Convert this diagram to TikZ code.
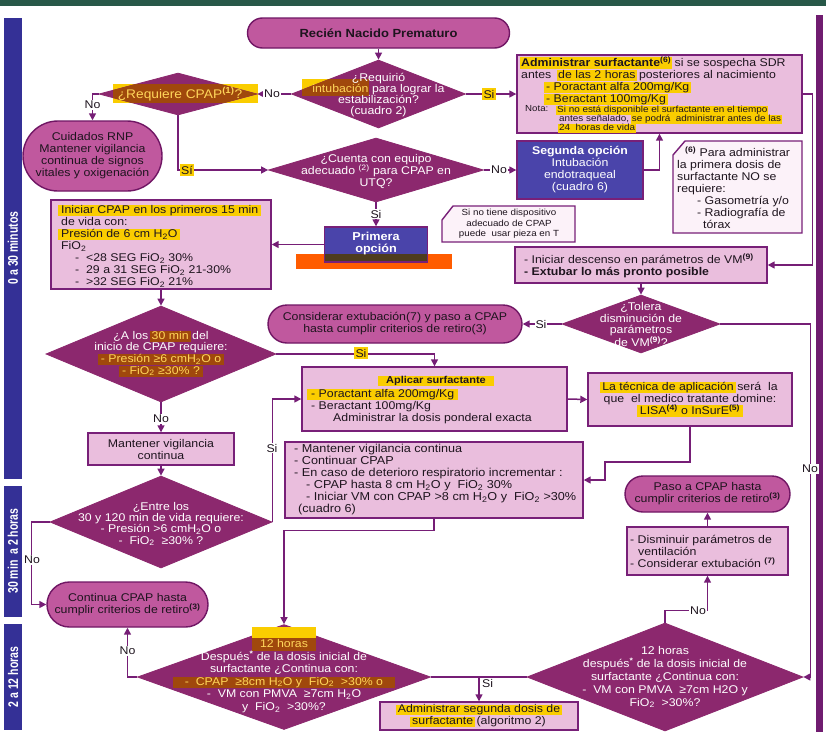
\documentclass[tikz,border=0pt]{standalone}
\usepackage{fontspec}
\setmainfont[FakeStretch=1.1]{Liberation Sans}
\newfontfamily\barfont[FakeStretch=0.75]{Liberation Sans}
\usetikzlibrary{arrows.meta,shapes.geometric}
\definecolor{topC}{RGB}{40,88,72}
\definecolor{barC}{RGB}{52,48,150}
\definecolor{rbarC}{RGB}{112,28,112}
\definecolor{lineC}{RGB}{118,30,118}
\definecolor{bordC}{RGB}{120,32,120}
\definecolor{boxC}{RGB}{234,190,221}
\definecolor{stadC}{RGB}{192,88,158}
\definecolor{stadB}{RGB}{112,22,100}
\definecolor{diaC}{RGB}{140,40,110}
\definecolor{blueC}{RGB}{74,68,170}
\definecolor{noteC}{RGB}{252,242,249}
\definecolor{hlY}{RGB}{250,205,0}
\definecolor{hlB}{RGB}{160,72,12}
\definecolor{hlT}{RGB}{255,214,90}
\definecolor{orangeC}{RGB}{255,92,0}
\definecolor{oliveC}{RGB}{78,60,30}
\definecolor{txtC}{RGB}{30,20,30}
\setlength{\fboxsep}{0pt}
\newcommand\hlstrut{\rule[-0.25em]{0pt}{0.95em}}
\newcommand\hly[2][1pt]{\kern-#1\relax\colorbox{hlY}{\kern#1\relax\hlstrut#2\kern#1\relax}\kern-#1\relax}
\newcommand\hlb[2][1pt]{\kern-#1\relax\colorbox{hlB}{\kern#1\relax\hlstrut\color{hlT}#2\kern#1\relax}\kern-#1\relax}
\newcommand\sups[1]{\textsuperscript{\bfseries #1}}
\begin{document}
\begin{tikzpicture}[x=1pt,y=-1pt,
  every node/.style={font=\fontsize{11.2}{12}\selectfont, text=txtC},
  conn/.style={draw=lineC, line width=1.5pt},
  arr/.style={conn, -{Triangle[length=7pt,width=7pt]}},
  pbox/.style={rectangle, draw=bordC, fill=boxC, line width=1.4pt, inner sep=0pt},
  bluebox/.style={rectangle, draw=bordC, fill=blueC, line width=1.4pt, inner sep=0pt},
  stad/.style={rectangle, draw=stadB, fill=stadC, line width=1.4pt, inner sep=0pt, align=center},
  dia/.style={diamond, draw=diaC, fill=diaC, line width=0.8pt, inner sep=0pt},
  dtext/.style={text=white, align=center, inner sep=0pt},
  txt/.style={inner sep=0pt, align=left},
  notebox/.style={draw=bordC, fill=noteC, line width=1.4pt},
  lbl/.style={fill=white, inner sep=1pt},
  ylbl/.style={fill=hlY, inner sep=1.5pt},
  bartext/.style={rotate=90, text=white, inner sep=0pt, font=\barfont\bfseries\fontsize{14}{14}\selectfont}
]
\useasboundingbox (0,0) rectangle (826,736);
\fill[white] (0,0) rectangle (826,736);
\fill[topC] (0,0) rectangle (826,6);
% time bars
\fill[barC] (4,18) rectangle (22,479);
\fill[barC] (4,486) rectangle (22,617);
\fill[barC] (4,624) rectangle (22,730);
\node[bartext] (b1t) at (13,248) {0 a 30 minutos};
\node[bartext] (b2t) at (13,551) {30 min \ a 2 horas};
\node[bartext] (b3t) at (13,677) {2 a 12 horas};
\fill[rbarC] (816,15) rectangle (823,732);

% highlights lying behind diamonds
\fill[hlY] (113,84) rectangle (258,103);
\fill[hlY] (302,79) rectangle (369,96);

% ---------- shapes ----------
\node[stad, rounded corners=15, minimum width=262, minimum height=30, font=\bfseries\fontsize{11.8}{12}\selectfont] (rnp) at (378.5,33) {Recién Nacido Prematuro};
\node[dia, minimum width=174, minimum height=68] (d1) at (378.5,94) {};
\node[dia, minimum width=158, minimum height=42] (d0) at (178,94) {};
\node[stad, rounded corners=35, minimum width=139, minimum height=70] (cuid) at (92.5,156) {Cuidados RNP\\Mantener vigilancia\\continua de signos\\vitales y oxigenación};
\node[dia, minimum width=215, minimum height=64] (d2) at (376,170) {};
\node[pbox, minimum width=285, minimum height=78] (surf) at (659.5,94) {};
\node[bluebox, minimum width=126, minimum height=58, text=white, align=center] (seg) at (580,170) {\textbf{Segunda opción}\\Intubación\\endotraqueal\\(cuadro 6)};

\draw[notebox] (673,155) -- (685,141) -- (802,141) -- (802,233) -- (673,233) -- cycle;
\node[txt, anchor=west] (n6t) at (677,188) {\hspace*{8pt}\sups{(6)} Para administrar\\la primera dosis de\\surfactante NO se\\requiere:\\\hspace*{20pt}- Gasometría y/o\\\hspace*{20pt}- Radiografía de\\\hspace*{26pt}tórax};
\draw[notebox] (442,220) -- (453,206) -- (575,206) -- (575,242) -- (442,242) -- cycle;
\node[inner sep=0pt, align=center, font=\fontsize{8.9}{10.5}\selectfont] (ntt) at (509,224) {Si no tiene dispositivo\\adecuado de CPAP\\puede \ usar pieza en T};

\fill[orangeC] (296,254) rectangle (452,269);
\node[bluebox, minimum width=103, minimum height=35] (prim) at (376,244.5) {};
\fill[oliveC] (324.5,254) rectangle (427.5,262);
\draw[bordC, line width=1.4pt] (324.5,227) rectangle (427.5,262);
\node[text=white, inner sep=0pt, align=center, font=\bfseries\fontsize{11.5}{12}\selectfont] (primt) at (376,244) {Primera\\opción};

\node[pbox, minimum width=220, minimum height=89] (cpap) at (161,244.5) {};
\node[dia, minimum width=230, minimum height=96] (d3) at (161,354) {};
\node[stad, rounded corners=19, minimum width=254, minimum height=38] (cons) at (395,324) {Considerar extubación(7) y paso a CPAP\\hasta cumplir criterios de retiro(3)};
\node[pbox, minimum width=252, minimum height=36] (desc) at (641,265) {};
\node[dia, minimum width=158, minimum height=58] (d4) at (641,324) {};
\node[pbox, minimum width=265, minimum height=64] (aplic) at (434.5,399) {};
\node[pbox, minimum width=204, minimum height=53, align=center] (tec) at (690,399.5) {\hly[2pt]{La técnica de aplicación} será \ la\\que \ el medico tratante domine:\\\hly[3pt]{LISA\sups{(4)} o InSurE\sups{(5)}}};
\node[pbox, minimum width=146, minimum height=32, align=center] (mant) at (161,449) {Mantener vigilancia\\continua};
\node[pbox, minimum width=298, minimum height=76] (lst) at (434,480) {};
\node[dia, minimum width=222, minimum height=92] (d5) at (161,522) {};
\node[stad, rounded corners=22.5, minimum width=161, minimum height=45] (cont) at (127.5,604.5) {Continua CPAP hasta\\cumplir criterios de retiro\sups{(3)}};
\node[dia, minimum width=293, minimum height=105] (d6) at (284,677) {};
\node[dia, minimum width=276, minimum height=108] (d7) at (665,677) {};
\node[stad, rounded corners=18, minimum width=165, minimum height=36] (paso) at (707.5,494) {Paso a CPAP hasta\\cumplir criterios de retiro\sups{(3)}};
\node[pbox, minimum width=161, minimum height=48] (dism) at (707.5,551) {};
\node[pbox, minimum width=198, minimum height=28] (segd) at (479,716) {};

% highlights over diamonds
\begin{scope}
\clip (d0.west) -- (d0.north) -- (d0.east) -- (d0.south) -- cycle;
\fill[hlB] (113,84) rectangle (258,103);
\end{scope}
\begin{scope}
\clip (d1.west) -- (d1.north) -- (d1.east) -- (d1.south) -- cycle;
\fill[hlB] (302,79) rectangle (369,96);
\end{scope}
\fill[hlB] (252,638) rectangle (316,651);
\fill[hlY] (252,627) rectangle (316,638);

% ---------- texts ----------
\node[dtext, text=hlT, font=\fontsize{12.5}{13}\selectfont] (d0t) at (180,94) {¿Requiere CPAP\sups{(1)}?};
\node[dtext, font=\fontsize{11.2}{11}\selectfont] (d1t) at (378.5,95.5) {¿Requirió\\\textcolor{hlT}{intubación} para lograr la\\estabilización?\\(cuadro 2)};
\node[dtext] (d2t) at (376,171) {¿Cuenta con equipo\\adecuado \textsuperscript{(2)} para CPAP en\\UTQ?};
\node[txt, anchor=north west] (surft) at (521,56.5) {\hly{\textbf{Administrar surfactante}\sups{(6)}} si se sospecha SDR\\antes \ \hly{de las 2 horas} posteriores al nacimiento\\\hspace*{25pt}\hly[2pt]{- Poractant alfa 200mg/Kg}\\\hspace*{25pt}\hly[2pt]{- Beractant 100mg/Kg}};
\node[txt, anchor=north west, font=\fontsize{8.8}{9}\selectfont] (nota) at (525,105.5) {Nota:};
\node[txt, anchor=north west, font=\fontsize{9}{9}\selectfont] (notat) at (557,105.5) {\hly{Si no está disponible el surfactante en el tiempo}\\\hspace*{2pt}antes señalado, \hly{se podrá \ administrar antes de las}\\\hspace*{2pt}\hly{24 \ horas de vida}};
\node[txt, anchor=north west] (cpapt) at (61,205) {\hly[3pt]{Iniciar CPAP en los primeros 15 min}\\de vida con:\\\hly[3pt]{Presión de 6 cm H\textsubscript{2}O}\\FiO\textsubscript{2}\\\hspace*{14pt}-\ \ <28 SEG FiO\textsubscript{2} 30\%\\\hspace*{14pt}-\ \ 29 a 31 SEG FiO\textsubscript{2} 21-30\%\\\hspace*{14pt}-\ \ >32 SEG FiO\textsubscript{2} 21\%};
\node[dtext, font=\fontsize{11.2}{11.7}\selectfont] (d3t) at (161,354) {¿A los \hlb[2pt]{30 min} del\\inicio de CPAP requiere:\\\hlb[3pt]{- Presión ≥6 cmH\textsubscript{2}O o}\\\hlb[3pt]{- FiO\textsubscript{2} ≥30\% ?}};
\node[txt, anchor=west] (desct) at (524,266) {- Iniciar descenso en parámetros de VM\sups{(9)}\\\textbf{- Extubar lo más pronto posible}};
\node[dtext, font=\fontsize{11.2}{11.5}\selectfont] (d4t) at (641,324.5) {¿Tolera\\disminución de\\parámetros\\de VM\sups{(9)}?};
\node[inner sep=0pt, font=\bfseries] (aplt) at (436,381) {\hly[8pt]{Aplicar surfactante}};
\node[txt, anchor=north west] (aplt2) at (311,389) {\hly[4pt]{- Poractant alfa 200mg/Kg}\\- Beractant 100mg/Kg\\\hspace*{22pt}Administrar la dosis ponderal exacta};
\node[txt, anchor=west, font=\fontsize{11.5}{12}\selectfont] (lstt) at (294,479.5) {- Mantener vigilancia continua\\- Continuar CPAP\\- En caso de deterioro respiratorio incrementar :\\\hspace*{12pt}- CPAP hasta 8 cm H\textsubscript{2}O y \ FiO\textsubscript{2} 30\%\\\hspace*{12pt}- Iniciar VM con CPAP >8 cm H\textsubscript{2}O y \ FiO\textsubscript{2} >30\%\\\hspace*{4pt}(cuadro 6)};
\node[dtext, font=\fontsize{11.2}{11.3}\selectfont] (d5t) at (161,524) {¿Entre los\\30 y 120 min de vida requiere:\\- Presión >6 cmH\textsubscript{2}O o\\- \ FiO\textsubscript{2} \ ≥30\% ?};
\node[dtext, font=\fontsize{11.2}{12.6}\selectfont] (d6t) at (284,676) {\textcolor{hlT}{12 horas}\\Después\textsuperscript{\textbf{*}} de la dosis inicial de\\surfactante ¿Continua con:\\\hlb[12pt]{-\ \ CPAP \ ≥8cm H\textsubscript{2}O y \ FiO\textsubscript{2} \ >30\% o}\\-\ \ VM con PMVA \ ≥7cm H\textsubscript{2}O\\y \ FiO\textsubscript{2} \ >30\%?};
\node[dtext, font=\fontsize{11.2}{13}\selectfont] (d7t) at (665,677) {12 horas\\después\textsuperscript{\textbf{*}} de la dosis inicial de\\surfactante ¿Continua con:\\-\ \ VM con PMVA \ ≥7cm H2O y\\FiO\textsubscript{2} \ >30\%?};
\node[txt, anchor=west] (dismt) at (630,551) {- Disminuir parámetros de\\\hspace*{8pt}ventilación\\- Considerar extubación \sups{(7)}};
\node[inner sep=0pt, align=center] (segdt) at (479,716) {\hly[2pt]{Administrar segunda dosis de}\\\hly[2pt]{surfactante} (algoritmo 2)};

% ---------- connectors ----------
\coordinate (k2) at (605,462);
\draw[arr] (rnp.south) -- (d1.north);
\draw[arr] (d1.west) -- (d0.east);
\draw[arr] (d1.east) -- (surf.west);
\draw[arr] (d0.west) -| (cuid.north);
\draw[arr] (d0.south) |- (d2.west);
\draw[arr] (d2.east) -- (seg.west);
\draw[arr] (seg.east) -| (surf.south);
\draw[arr] (surf.east) -- ++(10,0) |- (desc.east);
\draw[arr] (d2.south) -- (prim.north);
\draw[arr] (prim.west) -- (cpap.east);
\draw[arr] (cpap.south) -- (d3.north);
\draw[arr] (d3.east) -| (aplic.north);
\draw[arr] (d3.south) -- (mant.north);
\draw[arr] (mant.south) -- (d5.north);
\draw[arr] (d5.east) |- (aplic.west);
\draw[arr] (d5.west) -- ++(-18,0) |- (cont.west);
\draw[arr] (aplic.east) -- (tec.west);
\draw[arr] (tec.south) |- (k2) |- (lst.east);
\draw[arr] (lst.south) -- ++(0,12) -| (d6.north);
\draw[arr] (d6.west) -| (cont.south);
\draw[arr] (d6.east) -| (segd.north);
\draw[conn] (d7.west) -- (segd.north |- d7.west);
\draw[arr] (d7.north) -- ++(0,-12) -| (dism.south);
\draw[arr] (dism.north) -- (paso.south);
\draw[arr] (d4.east) -- ++(90,0) |- (d7.east);
\draw[arr] (desc.south) -- (d4.north);
\draw[arr] (d4.west) -- (cons.east);

% ---------- labels ----------
\node[lbl] (l1) at (272,94) {No};
\node[ylbl] (l2) at (489,94) {Si};
\node[lbl] (l3) at (92.5,105) {No};
\node[ylbl] (l4) at (187,170) {Sí};
\node[lbl] (l5) at (499,170) {No};
\node[lbl] (l6) at (376,214) {Si};
\node[ylbl] (l7) at (361,353) {Si};
\node[lbl] (l8) at (161,419) {No};
\node[lbl] (l9) at (272,448) {Si};
\node[lbl] (l10) at (32,560) {No};
\node[lbl] (l11) at (127.5,651) {No};
\node[inner sep=0pt, anchor=north west] (l12) at (482,679) {Si};
\node[lbl] (l13) at (698,611) {No};
\node[lbl] (l14) at (810,469) {No};
\node[lbl] (l15) at (541,324) {Si};
\end{tikzpicture}
\end{document}
